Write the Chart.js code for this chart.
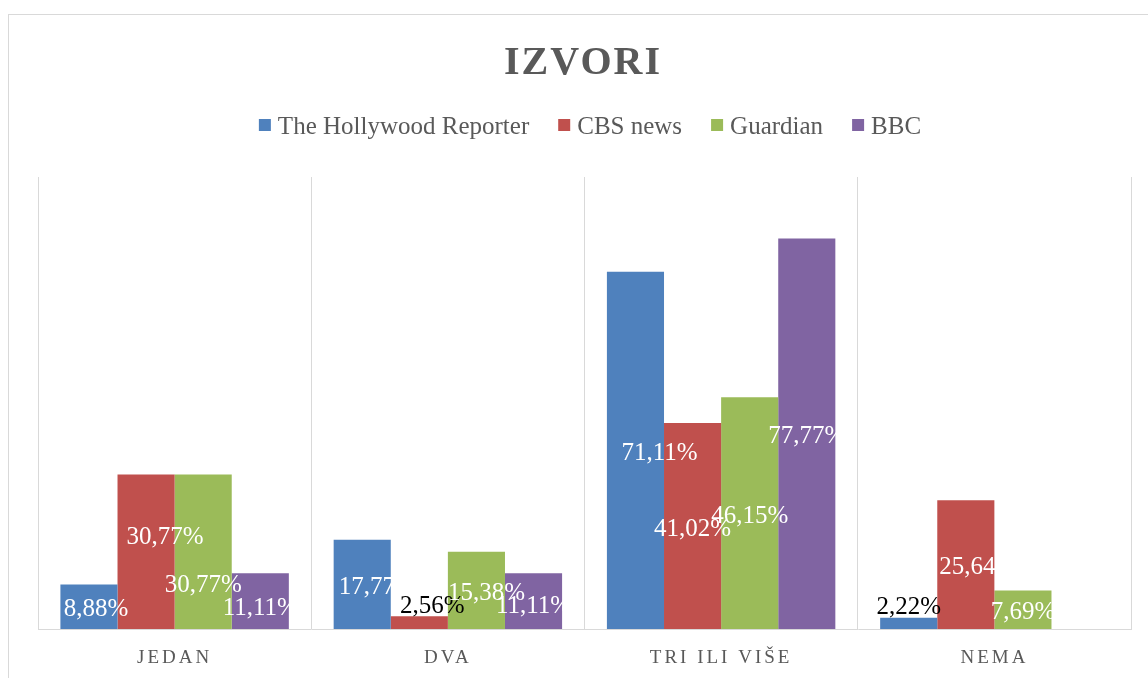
<!DOCTYPE html>
<html>
<head>
<meta charset="utf-8">
<script src="https://cdn.jsdelivr.net/npm/chart.js@4"></script>
<style>
  body { margin: 0; background: #fff; }
</style>
</head>
<body>
<canvas id="chart" width="1148" height="678"></canvas>
<script>
// data
const categories = ['JEDAN', 'DVA', 'TRI ILI VIŠE', 'NEMA'];
const seriesNames = ['The Hollywood Reporter', 'CBS news', 'Guardian', 'BBC'];
const hollywoodValues = [8.88, 17.77, 71.11, 2.22];
const cbsValues = [30.77, 2.56, 41.02, 25.64];
const guardianValues = [30.77, 15.38, 46.15, 7.69];
const bbcValues = [11.11, 11.11, 77.77, null];
const chartTitle = 'IZVORI';

const seriesColors = ['#4F81BD', '#C0504D', '#9BBB59', '#8064A2'];
// some labels were dragged by hand in the original (pixels)
const labelShiftX = [
    [7, 15, 24, 0],
    [19, 13, 0, 12],
    [0, 10, 0, 0],
    [0, 0, 0, 0],
];
const labelShiftY = [
    [0, 0, 0, 0],
    [-17, 0, 0, 0],
    [31, 0, 0, 0],
    [4, 2, 0, 0],
];

const serif = '"Liberation Serif", "Times New Roman", serif';
const textGrey = '#595959';

function fmtPercent(v) {
    return v.toFixed(2).replace('.', ',') + '%';
}

const decorPlugin = {
    id: 'decor',
    beforeDraw(chart) {
        const ctx = chart.ctx;
        ctx.save();
        ctx.fillStyle = '#fff';
        ctx.fillRect(0, 0, chart.width, chart.height);
        ctx.strokeStyle = '#d9d9d9';
        ctx.lineWidth = 1;
        ctx.strokeRect(8.5, 14.5, chart.width + 20, chart.height + 20);
        ctx.restore();
    },
    afterDatasetsDraw(chart) {
        const ctx = chart.ctx;
        ctx.save();
        ctx.font = '25px ' + serif;
        ctx.textAlign = 'center';
        ctx.textBaseline = 'middle';
        chart.data.datasets.forEach((ds, i) => {
            const meta = chart.getDatasetMeta(i);
            meta.data.forEach((bar, j) => {
                const v = ds.data[j];
                if (v === null || v === undefined) return;
                const x = bar.x + labelShiftX[i][j];
                if (v < 5) {
                    ctx.fillStyle = '#000';
                    ctx.fillText(fmtPercent(v), x, bar.y - 10);
                } else {
                    ctx.fillStyle = '#fff';
                    ctx.fillText(fmtPercent(v), x, (bar.y + bar.base) / 2 + 3 + labelShiftY[i][j]);
                }
            });
        });
        ctx.restore();
    },
    afterDraw(chart) {
        const ctx = chart.ctx;
        const area = chart.chartArea;
        ctx.save();

        // title
        ctx.fillStyle = textGrey;
        ctx.font = 'bold 40px ' + serif;
        ctx.letterSpacing = '2px';
        ctx.textAlign = 'center';
        ctx.textBaseline = 'alphabetic';
        ctx.fillText(chartTitle, 583, 74);

        // legend
        ctx.font = '25px ' + serif;
        ctx.letterSpacing = '0px';
        ctx.textAlign = 'left';
        const box = 12, boxGap = 7, itemGap = 29;
        const widths = seriesNames.map(n => box + boxGap + ctx.measureText(n).width);
        const total = widths.reduce((a, b) => a + b, 0) + itemGap * (widths.length - 1);
        let x = 590 - total / 2;
        seriesNames.forEach((name, i) => {
            ctx.fillStyle = seriesColors[i];
            ctx.fillRect(x, 119, box, box);
            ctx.fillStyle = textGrey;
            ctx.fillText(name, x + box + boxGap, 134);
            x += widths[i] + itemGap;
        });

        // category labels
        const xScale = chart.scales.x;
        ctx.font = '19px ' + serif;
        ctx.letterSpacing = '3px';
        ctx.textAlign = 'center';
        categories.forEach((c, i) => {
            ctx.fillText(c, xScale.getPixelForValue(i), area.bottom + 34);
        });
        ctx.restore();
    }
};

const ctx = document.getElementById('chart').getContext('2d');
const datasets = [hollywoodValues, cbsValues, guardianValues, bbcValues].map((vals, i) => ({
    label: seriesNames[i],
    data: vals,
    backgroundColor: seriesColors[i],
    borderWidth: 0,
    categoryPercentage: 0.836,
    barPercentage: 1.0,
}));

const myChart = new Chart(ctx, {
    type: 'bar',
    data: {
        labels: categories,
        datasets: datasets,
    },
    options: {
        responsive: false,
        animation: false,
        layout: {
            padding: { top: 177, left: 38, right: 17, bottom: 49 }
        },
        plugins: {
            legend: { display: false },
            title: { display: false },
            tooltip: { enabled: false },
        },
        scales: {
            x: {
                display: true,
                grid: {
                    offset: true,
                    color: '#d9d9d9',
                    drawTicks: false,
                },
                border: { color: '#d9d9d9' },
                ticks: { display: false },
            },
            y: {
                display: false,
                min: 0,
                max: 90,
            },
        },
    },
    plugins: [decorPlugin],
});
</script>
</body>
</html>
